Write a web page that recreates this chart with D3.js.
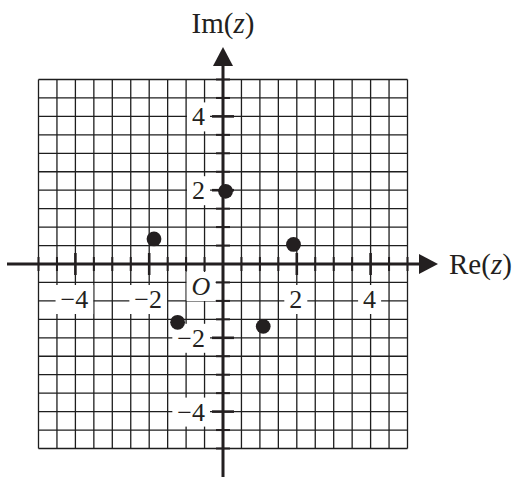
<!DOCTYPE html>
<html>
<head>
<meta charset="utf-8">
<script src="https://cdn.jsdelivr.net/npm/d3@7"></script>
<style>
  body { margin: 0; background: #fff; }
  text { font-family: "Liberation Serif", "Times New Roman", serif; fill: #231f20; }
</style>
</head>
<body>
<script>
// points of the plot
var reValues = [0.07, -1.87, -1.23, 1.09, 1.91];
var imValues = [1.97, 0.68, -1.58, -1.69, 0.53];

// tick labels
var xTickLabels = [-4, -2, 2, 4];
var yTickLabels = [4, 2, -2, -4];

var w = 516, h = 477;
var ink = "#231f20";

var x = d3.scaleLinear().domain([-5, 5]).range([38.5, 407.5]);
var y = d3.scaleLinear().domain([-5, 5]).range([448.5, 79.5]);

var svg = d3.select("body")
	.append("svg")
	.attr("width", w)
	.attr("height", h);

// grid every half unit
var gridVals = d3.range(-10, 11).map(function(d) { return d / 2; });

svg.append("g").selectAll("line")
	.data(gridVals)
	.enter().append("line")
	.attr("x1", function(d) { return x(d); })
	.attr("x2", function(d) { return x(d); })
	.attr("y1", y(5))
	.attr("y2", y(-5))
	.attr("stroke", "#1e1e1e")
	.attr("stroke-width", 1.3);

svg.append("g").selectAll("line")
	.data(gridVals)
	.enter().append("line")
	.attr("y1", function(d) { return y(d); })
	.attr("y2", function(d) { return y(d); })
	.attr("x1", x(-5))
	.attr("x2", x(5))
	.attr("stroke", "#1e1e1e")
	.attr("stroke-width", 1.3);

// label helper with white knock-out box
function label(g, txt, px, py, anchor, italic) {
	var t = g.append("text")
		.attr("x", px)
		.attr("y", py)
		.attr("text-anchor", anchor)
		.attr("font-size", 26)
		.style("font-style", italic ? "italic" : "normal")
		.text(txt);
	var b = t.node().getBBox();
	g.insert("rect", "text")
		.attr("x", b.x - 5)
		.attr("y", b.y)
		.attr("width", b.width + 10)
		.attr("height", b.height)
		.attr("fill", "#fff");
}

var labels = svg.append("g");
xTickLabels.forEach(function(d) {
	label(labels.append("g"), d < 0 ? "\u2212" + Math.abs(d) : d, x(d) - 1, y(0) + 44, "middle", false);
});
yTickLabels.forEach(function(d) {
	label(labels.append("g"), d < 0 ? "\u2212" + Math.abs(d) : d, x(0) - 18, y(d) + 9, "end", false);
});
label(labels.append("g"), "O", x(0) - 22, y(0) + 31, "middle", true);

// axes
var x0 = x(0), y0 = y(0);
svg.append("line")
	.attr("x1", 7).attr("x2", 425)
	.attr("y1", y0).attr("y2", y0)
	.attr("stroke", ink).attr("stroke-width", 3);
svg.append("line")
	.attr("x1", x0).attr("x2", x0)
	.attr("y1", 60).attr("y2", h)
	.attr("stroke", ink).attr("stroke-width", 3);

// arrow heads
svg.append("path")
	.attr("d", "M" + x0 + ",47 L" + (x0 - 10) + ",66 L" + (x0 + 10) + ",66 Z")
	.attr("fill", ink);
svg.append("path")
	.attr("d", "M438," + y0 + " L419," + (y0 - 10) + " L419," + (y0 + 10) + " Z")
	.attr("fill", ink);

// ticks on the axes
var tickG = svg.append("g");
gridVals.filter(function(d) { return d !== 0; }).forEach(function(d) {
	var len = (d % 2 === 0) ? 11 : 7;
	tickG.append("line")
		.attr("x1", x(d)).attr("x2", x(d))
		.attr("y1", y0 - len).attr("y2", y0 + len)
		.attr("stroke", ink).attr("stroke-width", d % 2 === 0 ? 2.6 : 2);
	tickG.append("line")
		.attr("y1", y(d)).attr("y2", y(d))
		.attr("x1", x0 - len).attr("x2", x0 + len)
		.attr("stroke", ink).attr("stroke-width", d % 2 === 0 ? 2.6 : 2);
});

// axis titles
var imT = svg.append("text")
	.attr("x", x0)
	.attr("y", 33)
	.attr("text-anchor", "middle")
	.attr("font-size", 29);
imT.append("tspan").text("Im(");
imT.append("tspan").style("font-style", "italic").text("z");
imT.append("tspan").text(")");

var reT = svg.append("text")
	.attr("x", 449)
	.attr("y", y0 + 10)
	.attr("font-size", 29);
reT.append("tspan").text("Re(");
reT.append("tspan").style("font-style", "italic").text("z");
reT.append("tspan").text(")");

// the points
svg.append("g").selectAll("circle")
	.data(reValues)
	.enter().append("circle")
	.attr("cx", function(d) { return x(d); })
	.attr("cy", function(d, i) { return y(imValues[i]); })
	.attr("r", 7.4)
	.attr("fill", ink);
</script>
</body>
</html>
